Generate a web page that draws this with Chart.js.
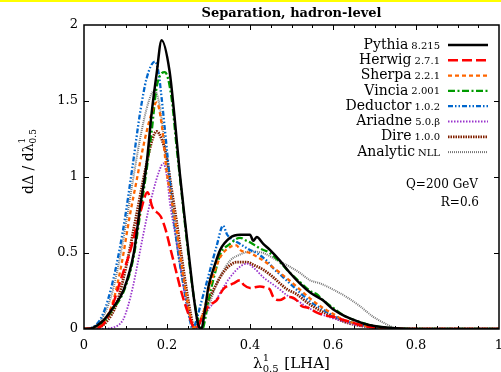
<!DOCTYPE html>
<html lang="en">
<head>
    <meta charset="UTF-8">
    <title>Separation, hadron-level</title>
    <script src="https://cdn.jsdelivr.net/npm/chart.js@4.4.0/dist/chart.umd.min.js"></script>
    <style>
        html, body { margin: 0; padding: 0; background: #fff; }
        #wrap { width: 501px; height: 372px; position: relative; }
    </style>
</head>
<body>
    <div id="wrap"><canvas id="chart" width="501" height="372"></canvas></div>
    <script>
        // LHA distributions, lambda^1_0.5, Q = 200 GeV, R = 0.6
        const pythiaX = [0, 0.02, 0.03, 0.048, 0.07, 0.096, 0.12, 0.135, 0.151, 0.163, 0.175, 0.187, 0.206, 0.218, 0.231, 0.243, 0.255, 0.265, 0.275, 0.283, 0.29, 0.30, 0.315, 0.328, 0.352, 0.376, 0.40, 0.408, 0.416, 0.432, 0.448, 0.472, 0.496, 0.52, 0.545, 0.575, 0.60, 0.625, 0.65, 0.675, 0.70, 0.75, 0.8, 1];
        const pythiaY = [0, 0.005, 0.02, 0.06, 0.14, 0.26, 0.5, 0.8, 1.09, 1.42, 1.68, 1.9, 1.7, 1.4, 1.02, 0.72, 0.43, 0.2, 0.03, 0, 0.1, 0.28, 0.42, 0.52, 0.6, 0.62, 0.62, 0.58, 0.605, 0.56, 0.52, 0.45, 0.37, 0.3, 0.24, 0.19, 0.13, 0.09, 0.06, 0.035, 0.02, 0.005, 0, 0];

        const herwigX = [0, 0.02, 0.04, 0.064, 0.088, 0.112, 0.137, 0.153, 0.165, 0.185, 0.197, 0.209, 0.221, 0.233, 0.245, 0.257, 0.265, 0.275, 0.285, 0.30, 0.32, 0.335, 0.36, 0.376, 0.385, 0.40, 0.424, 0.44, 0.448, 0.456, 0.472, 0.488, 0.496, 0.512, 0.525, 0.54, 0.56, 0.58, 0.60, 0.625, 0.65, 0.675, 0.70, 0.75, 0.8, 1];
        const herwigY = [0, 0.005, 0.015, 0.12, 0.32, 0.52, 0.78, 0.9, 0.8, 0.74, 0.65, 0.52, 0.39, 0.26, 0.15, 0.06, 0.01, 0.02, 0.08, 0.15, 0.19, 0.26, 0.3, 0.32, 0.29, 0.27, 0.28, 0.27, 0.26, 0.21, 0.19, 0.21, 0.21, 0.19, 0.15, 0.14, 0.11, 0.09, 0.08, 0.06, 0.04, 0.02, 0.01, 0.002, 0, 0];

        const sherpaX = [0, 0.03, 0.05, 0.07, 0.09, 0.11, 0.127, 0.139, 0.151, 0.163, 0.175, 0.187, 0.199, 0.211, 0.223, 0.235, 0.247, 0.255, 0.263, 0.275, 0.287, 0.303, 0.315, 0.328, 0.352, 0.368, 0.376, 0.40, 0.432, 0.472, 0.512, 0.545, 0.575, 0.60, 0.625, 0.65, 0.70, 0.75, 0.8, 1];
        const sherpaY = [0, 0.01, 0.06, 0.18, 0.42, 0.74, 0.98, 1.15, 1.3, 1.42, 1.49, 1.35, 1.04, 0.85, 0.65, 0.42, 0.21, 0.09, 0.01, 0.03, 0.1, 0.28, 0.38, 0.47, 0.54, 0.55, 0.52, 0.5, 0.45, 0.37, 0.28, 0.2, 0.14, 0.1, 0.06, 0.04, 0.01, 0.003, 0, 0];

        const vinciaX = [0, 0.02, 0.048, 0.07, 0.096, 0.12, 0.135, 0.151, 0.163, 0.175, 0.195, 0.211, 0.223, 0.235, 0.247, 0.26, 0.27, 0.28, 0.285, 0.293, 0.30, 0.315, 0.328, 0.352, 0.376, 0.392, 0.40, 0.424, 0.448, 0.472, 0.496, 0.52, 0.545, 0.56, 0.576, 0.60, 0.625, 0.65, 0.70, 0.75, 0.8, 1];
        const vinciaY = [0, 0.005, 0.05, 0.13, 0.25, 0.48, 0.75, 1.05, 1.3, 1.59, 1.69, 1.52, 1.2, 0.9, 0.6, 0.3, 0.12, 0.02, 0, 0.08, 0.19, 0.36, 0.49, 0.56, 0.6, 0.58, 0.57, 0.53, 0.5, 0.44, 0.37, 0.31, 0.25, 0.23, 0.19, 0.14, 0.09, 0.06, 0.02, 0.005, 0, 0];

        const deductorX = [0, 0.02, 0.046, 0.07, 0.094, 0.118, 0.135, 0.151, 0.171, 0.18, 0.187, 0.199, 0.215, 0.227, 0.239, 0.255, 0.262, 0.27, 0.28, 0.30, 0.32, 0.335, 0.345, 0.352, 0.376, 0.40, 0.416, 0.44, 0.456, 0.48, 0.496, 0.52, 0.545, 0.575, 0.60, 0.625, 0.65, 0.70, 0.75, 0.8, 1];
        const deductorY = [0, 0.01, 0.1, 0.32, 0.65, 1.09, 1.42, 1.65, 1.76, 1.68, 1.52, 1.2, 0.76, 0.5, 0.3, 0.06, 0, 0.05, 0.15, 0.35, 0.55, 0.68, 0.62, 0.6, 0.56, 0.52, 0.5, 0.45, 0.4, 0.34, 0.3, 0.24, 0.18, 0.13, 0.09, 0.06, 0.04, 0.01, 0.003, 0, 0];

        const ariadneX = [0, 0.04, 0.07, 0.094, 0.106, 0.118, 0.13, 0.142, 0.155, 0.167, 0.18, 0.191, 0.2, 0.207, 0.22, 0.231, 0.241, 0.251, 0.26, 0.267, 0.28, 0.30, 0.32, 0.335, 0.352, 0.376, 0.392, 0.41, 0.432, 0.452, 0.472, 0.49, 0.512, 0.54, 0.57, 0.60, 0.625, 0.65, 0.70, 0.75, 0.8, 1];
        const ariadneY = [0, 0, 0.01, 0.06, 0.15, 0.28, 0.44, 0.61, 0.78, 0.91, 1.03, 1.09, 1.0, 0.83, 0.62, 0.43, 0.26, 0.12, 0.03, 0, 0.05, 0.13, 0.2, 0.27, 0.34, 0.41, 0.43, 0.4, 0.34, 0.3, 0.26, 0.22, 0.19, 0.14, 0.1, 0.07, 0.05, 0.03, 0.01, 0.002, 0, 0];

        const direX = [0, 0.03, 0.055, 0.079, 0.103, 0.127, 0.151, 0.165, 0.175, 0.187, 0.199, 0.211, 0.223, 0.235, 0.247, 0.257, 0.265, 0.275, 0.287, 0.30, 0.318, 0.335, 0.352, 0.368, 0.392, 0.41, 0.432, 0.452, 0.472, 0.49, 0.512, 0.54, 0.57, 0.60, 0.625, 0.65, 0.70, 0.75, 0.8, 1];
        const direY = [0, 0.005, 0.05, 0.17, 0.43, 0.76, 1.09, 1.25, 1.3, 1.25, 1.13, 0.92, 0.71, 0.48, 0.26, 0.1, 0.01, 0.03, 0.1, 0.19, 0.29, 0.37, 0.42, 0.44, 0.44, 0.42, 0.39, 0.35, 0.3, 0.26, 0.23, 0.17, 0.12, 0.08, 0.05, 0.03, 0.01, 0.002, 0, 0];

        const analyticX = [0, 0.02, 0.046, 0.07, 0.094, 0.118, 0.135, 0.151, 0.165, 0.171, 0.18, 0.187, 0.199, 0.215, 0.227, 0.239, 0.251, 0.262, 0.27, 0.28, 0.30, 0.32, 0.335, 0.352, 0.376, 0.40, 0.432, 0.46, 0.496, 0.52, 0.545, 0.569, 0.60, 0.633, 0.665, 0.697, 0.73, 0.75, 0.8, 1];
        const analyticY = [0, 0.01, 0.08, 0.26, 0.58, 0.98, 1.25, 1.45, 1.56, 1.57, 1.5, 1.38, 1.12, 0.75, 0.5, 0.3, 0.12, 0.02, 0, 0.05, 0.15, 0.3, 0.38, 0.45, 0.49, 0.51, 0.5, 0.46, 0.41, 0.37, 0.32, 0.3, 0.26, 0.21, 0.15, 0.08, 0.03, 0.005, 0, 0];

        const serif = "'DejaVu Serif', 'Liberation Serif', serif";

        function pts(xs, ys) {
            return xs.map((x, i) => ({ x: x, y: ys[i] }));
        }

        // name, version, colour, dash, width, data
        const series = [
            ['Pythia', '8.215', '#000000', [], 2.5, pts(pythiaX, pythiaY)],
            ['Herwig', '2.7.1', '#ff0000', [10, 4], 2.5, pts(herwigX, herwigY)],
            ['Sherpa', '2.2.1', '#ff6600', [4, 3], 2.3, pts(sherpaX, sherpaY)],
            ['Vincia', '2.001', '#009a00', [7, 2.5, 2, 2.5], 2.3, pts(vinciaX, vinciaY)],
            ['Deductor', '1.0.2', '#0066cc', [5, 2, 1.5, 2, 1.5, 2], 2.3, pts(deductorX, deductorY)],
            ['Ariadne', '5.0.\u03b2', '#9933cc', [1.5, 1.5], 1.8, pts(ariadneX, ariadneY)],
            ['Dire', '1.0.0', '#802000', [1.5, 1], 2.8, pts(direX, direY)],
            ['Analytic', 'NLL', '#777777', [1, 1], 2, pts(analyticX, analyticY)]
        ];

        function tickText(v) {
            return String(Number(v.toFixed(2)));
        }

        // frame, inward ticks, titles, legend
        const decor = {
            id: 'decor',
            beforeDraw(chart) {
                const ctx = chart.ctx;
                ctx.save();
                ctx.fillStyle = '#ffff00';
                ctx.fillRect(0, 0, chart.width, 2);
                ctx.restore();
            },
            afterDraw(chart) {
                const ctx = chart.ctx;
                const a = chart.chartArea;
                const xs = chart.scales.x, ys = chart.scales.y;
                ctx.save();
                ctx.strokeStyle = '#000';
                ctx.lineWidth = 1.5;
                ctx.setLineDash([]);
                ctx.strokeRect(a.left, a.top, a.right - a.left, a.bottom - a.top);

                ctx.lineWidth = 1;
                ctx.beginPath();
                for (let k = 1; k < 20; k++) {
                    const v = k * 0.05;
                    const px = Math.round(xs.getPixelForValue(v)) + 0.5;
                    const len = (k % 4 === 0) ? 5 : 3;
                    ctx.moveTo(px, a.bottom); ctx.lineTo(px, a.bottom - len);
                    ctx.moveTo(px, a.top); ctx.lineTo(px, a.top + len);
                }
                for (let k = 1; k < 4; k++) {
                    const py = Math.round(ys.getPixelForValue(k * 0.5)) + 0.5;
                    ctx.moveTo(a.left, py); ctx.lineTo(a.left + 5, py);
                    ctx.moveTo(a.right, py); ctx.lineTo(a.right - 5, py);
                }
                ctx.stroke();

                ctx.fillStyle = '#000';
                ctx.textBaseline = 'middle';

                // title
                ctx.font = 'bold 13px ' + serif;
                ctx.textAlign = 'center';
                ctx.fillText('Separation, hadron-level', (a.left + a.right) / 2, 14);

                // x axis title: lambda^1_0.5 [LHA]
                const xt = [['\u03bb', 15], ['1', 10, -6, '0.5', 5], [' [LHA]', 15]];
                drawLabel(ctx, xt, (a.left + a.right) / 2, 364);

                // y axis title
                ctx.save();
                ctx.translate(29, 161);
                ctx.rotate(-Math.PI / 2);
                const yt = [['d\u0394 / d\u03bb', 14], ['1', 9, -6, '0.5', 5]];
                drawLabel(ctx, yt, 0, 0);
                ctx.restore();

                // legend
                ctx.textAlign = 'left';
                series.forEach((s, i) => {
                    const y = 45 + i * 15.3;
                    ctx.font = '10px ' + serif;
                    const vw = ctx.measureText(s[1]).width;
                    ctx.fillText(s[1], 440 - vw, y + 1);
                    ctx.font = '14px ' + serif;
                    const nw = ctx.measureText(s[0]).width;
                    ctx.fillText(s[0], 440 - vw - 3 - nw, y);
                    ctx.strokeStyle = s[2];
                    ctx.lineWidth = s[4];
                    ctx.setLineDash(s[3]);
                    ctx.beginPath();
                    ctx.moveTo(448, y);
                    ctx.lineTo(488, y);
                    ctx.stroke();
                });
                ctx.setLineDash([]);

                ctx.font = '12px ' + serif;
                ctx.textAlign = 'right';
                ctx.fillText('Q=200 GeV', 478, 185);
                ctx.fillText('R=0.6', 479, 203);
                ctx.restore();
            }
        };

        // pieces: [text, size] or [sup, size, shift, sub, subShift]
        function drawLabel(ctx, parts, cx, cy) {
            let total = 0;
            const widths = parts.map(p => {
                ctx.font = p[1] + 'px ' + serif;
                let w = ctx.measureText(p[0]).width;
                if (p[3] !== undefined) w = Math.max(w, ctx.measureText(p[3]).width) + 1;
                total += w;
                return w;
            });
            let x = cx - total / 2;
            ctx.textAlign = 'left';
            parts.forEach((p, i) => {
                ctx.font = p[1] + 'px ' + serif;
                if (p[3] !== undefined) {
                    ctx.fillText(p[0], x, cy + p[2]);
                    ctx.fillText(p[3], x, cy + p[4]);
                } else {
                    ctx.fillText(p[0], x, cy);
                }
                x += widths[i];
            });
        }

        const ctx = document.getElementById('chart').getContext('2d');
        new Chart(ctx, {
            type: 'line',
            data: {
                datasets: series.map(s => ({
                    label: s[0] + ' ' + s[1],
                    data: s[5],
                    borderColor: s[2],
                    borderDash: s[3],
                    borderWidth: s[4],
                    pointRadius: 0,
                    fill: false,
                    cubicInterpolationMode: 'monotone'
                }))
            },
            options: {
                responsive: false,
                animation: false,
                devicePixelRatio: 1,
                layout: { padding: { top: 25, right: 2, left: 0, bottom: 0 } },
                plugins: {
                    legend: { display: false },
                    title: { display: false },
                    tooltip: { enabled: false }
                },
                scales: {
                    x: {
                        type: 'linear',
                        min: 0,
                        max: 1,
                        grid: { display: false, drawTicks: false },
                        border: { display: false },
                        ticks: {
                            stepSize: 0.2,
                            padding: 9,
                            color: '#000',
                            maxRotation: 0,
                            font: { family: serif, size: 13 },
                            callback: tickText
                        },
                        afterFit(scale) {
                            scale.height = 43;
                            scale.paddingLeft = 0;
                            scale.paddingRight = 0;
                        }
                    },
                    y: {
                        min: 0,
                        max: 2,
                        grid: { display: false, drawTicks: false },
                        border: { display: false },
                        ticks: {
                            stepSize: 0.5,
                            padding: 6,
                            color: '#000',
                            font: { family: serif, size: 13 },
                            callback: tickText
                        },
                        afterFit(scale) {
                            scale.width = 84;
                            scale.paddingTop = 0;
                            scale.paddingBottom = 0;
                        }
                    }
                }
            },
            plugins: [decor]
        });
    </script>
</body>
</html>
